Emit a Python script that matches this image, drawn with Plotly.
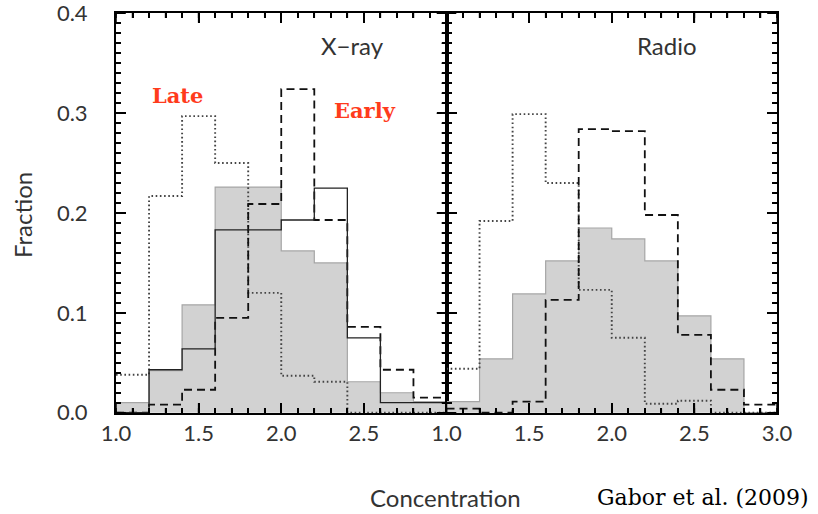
import numpy as np
import plotly.graph_objects as go

# ---------------- data ----------------
bin_edges = [1.0, 1.2, 1.4, 1.6, 1.8, 2.0, 2.2, 2.4, 2.6, 2.8, 3.0]

xray_gray = [0.010, 0.042, 0.108, 0.226, 0.226, 0.162, 0.150, 0.031, 0.020, 0.011]
xray_solid = [0.0, 0.043, 0.064, 0.183, 0.183, 0.193, 0.225, 0.075, 0.010, 0.010]
xray_dashed = [0.0, 0.008, 0.023, 0.095, 0.209, 0.324, 0.193, 0.086, 0.043, 0.015]
xray_dotted = [0.038, 0.217, 0.297, 0.250, 0.120, 0.037, 0.031, 0.0, 0.0, 0.0]

radio_gray = [0.011, 0.054, 0.119, 0.152, 0.185, 0.174, 0.152, 0.097, 0.054, 0.0]
radio_dashed = [0.004, 0.0, 0.011, 0.113, 0.284, 0.282, 0.198, 0.078, 0.023, 0.008]
radio_dotted = [0.044, 0.192, 0.299, 0.230, 0.123, 0.075, 0.009, 0.012, 0.0, 0.0]

panel_labels = ["X\u2212ray", "Radio"]
class_labels = ["Late", "Early"]


def step(vals):
    return list(bin_edges), list(vals) + [vals[-1]]


fig = go.Figure()

FILL = "#d2d2d2"
FILL_LINE = "#a6a6a6"
XR = [1.0, 3.0]
YR = [-0.0003, 0.4003]

def add_panel(gray, solid, dashed, dotted, xa, ya):
    x, y = step(gray)
    fig.add_trace(go.Scatter(x=x, y=y, mode="lines", line_shape="hv", fill="tozeroy",
                             fillcolor=FILL, line=dict(color=FILL_LINE, width=1.2),
                             xaxis=xa, yaxis=ya, showlegend=False, hoverinfo="skip"))
    x, y = step(dotted)
    fig.add_trace(go.Scatter(x=x, y=y, mode="lines", line_shape="hv",
                             line=dict(color="#444444", width=1.9, dash="1.6px,2.6px"),
                             xaxis=xa, yaxis=ya, showlegend=False, hoverinfo="skip"))
    x, y = step(dashed)
    fig.add_trace(go.Scatter(x=x, y=y, mode="lines", line_shape="hv",
                             line=dict(color="#111111", width=1.8, dash="8px,5px"),
                             xaxis=xa, yaxis=ya, showlegend=False, hoverinfo="skip"))
    if solid is not None:
        x, y = step(solid)
        fig.add_trace(go.Scatter(x=x, y=y, mode="lines", line_shape="hv",
                                 line=dict(color="#222222", width=1.3),
                                 xaxis=xa, yaxis=ya, showlegend=False, hoverinfo="skip"))


def add_frame_ticks(xa, ya):
    # inward tick marks on all four sides, clipped to the plot area
    y_minor = np.round(np.arange(0.0, 0.4001, 0.01), 3)
    y_major = np.round(np.arange(0.0, 0.4001, 0.1), 3)
    x_minor = np.round(np.arange(1.0, 3.0001, 0.1), 3)
    x_major = np.round(np.arange(1.0, 3.0001, 0.5), 3)
    specs = [
        (np.concatenate([np.full(len(y_minor), XR[0]), np.full(len(y_minor), XR[1])]),
         np.concatenate([y_minor, y_minor]), "line-ew", 7),
        (np.concatenate([np.full(len(y_major), XR[0]), np.full(len(y_major), XR[1])]),
         np.concatenate([y_major, y_major]), "line-ew", 14),
        (np.concatenate([x_minor, x_minor]),
         np.concatenate([np.full(len(x_minor), YR[0]), np.full(len(x_minor), YR[1])]), "line-ns", 7),
        (np.concatenate([x_major, x_major]),
         np.concatenate([np.full(len(x_major), YR[0]), np.full(len(x_major), YR[1])]), "line-ns", 14),
    ]
    for xs, ys, sym, size in specs:
        fig.add_trace(go.Scatter(x=xs, y=ys, mode="markers", cliponaxis=True,
                                 marker=dict(symbol=sym, size=size, color="black",
                                             line=dict(width=1.5, color="black")),
                                 xaxis=xa, yaxis=ya, showlegend=False, hoverinfo="skip"))


add_panel(xray_gray, xray_solid, xray_dashed, xray_dotted, "x", "y")
add_panel(radio_gray, None, radio_dashed, radio_dotted, "x2", "y2")
add_frame_ticks("x", "y")
add_frame_ticks("x2", "y2")

TICKFONT = dict(family="Lato", size=22, color="#333333")

def frame_x(domain, anchor, hide_last):
    d = dict(domain=domain, anchor=anchor, range=XR, showgrid=False, zeroline=False,
             showline=True, linecolor="black", linewidth=2, mirror="ticks",
             ticks="inside", ticklen=10, tickwidth=1.5, tickcolor="black",
             tickmode="linear", tick0=1.0, dtick=0.5, tickformat=".1f",
             tickfont=TICKFONT, ticklabeloverflow="allow", automargin=False,
             minor=dict(tick0=1.0, dtick=0.1, ticks="inside", ticklen=5,
                        tickwidth=1.5, tickcolor="black", showgrid=False))
    if hide_last:
        d["labelalias"] = {"3.0": " "}
    return d

def frame_y(anchor, showlabels):
    return dict(domain=[0, 1], anchor=anchor, range=YR, showgrid=False, zeroline=False,
                showline=True, linecolor="black", linewidth=2, mirror="ticks",
                ticks="inside", ticklen=10, tickwidth=1.5, tickcolor="black",
                tickmode="linear", tick0=0.0, dtick=0.1, tickformat=".1f",
                ticksuffix="\u2002\u2002", showticklabels=showlabels,
                tickfont=TICKFONT, ticklabeloverflow="allow", automargin=False,
                minor=dict(tick0=0.0, dtick=0.01, ticks="inside", ticklen=5,
                           tickwidth=1.5, tickcolor="black", showgrid=False))

fig.update_layout(
    width=818, height=514,
    margin=dict(l=116, r=41, t=13, b=101),
    paper_bgcolor="white", plot_bgcolor="white",
    xaxis=frame_x([0, 0.5], "y", True),
    xaxis2=frame_x([0.5, 1.0], "y2", False),
    yaxis=frame_y("x", True),
    yaxis2=frame_y("x2", False),
    showlegend=False,
)

LABELFONT = dict(family="Lato", size=24, color="#333333")
RED = "#ff3b1c"
REDFONT = dict(family="DejaVu Serif", size=21, color=RED, weight="bold")
ann = [
    dict(x=2.434, y=0.368, xref="x", yref="y", text=panel_labels[0], font=LABELFONT),
    dict(x=2.333, y=0.368, xref="x2", yref="y2", text=panel_labels[1], font=LABELFONT),
    dict(x=1.375, y=0.318, xref="x", yref="y", text=class_labels[0], font=REDFONT),
    dict(x=2.506, y=0.303, xref="x", yref="y", text=class_labels[1], font=REDFONT),
    dict(x=(22 - 116) / 661, y=(413 - 215) / 400, xref="paper", yref="paper",
         text="Fraction", textangle=-90, font=LABELFONT),
    dict(x=(445 - 116) / 661, y=(413 - 497) / 400, xref="paper", yref="paper",
         text="Concentration", font=LABELFONT),
    dict(x=(703 - 116) / 661, y=(413 - 497) / 400, xref="paper", yref="paper",
         text="Gabor et al. (2009)", font=dict(family="DejaVu Serif", size=22, color="black")),
]
for a in ann:
    a.update(showarrow=False, xanchor="center", yanchor="middle")
fig.update_layout(annotations=ann)

fig.write_html("out.html")
